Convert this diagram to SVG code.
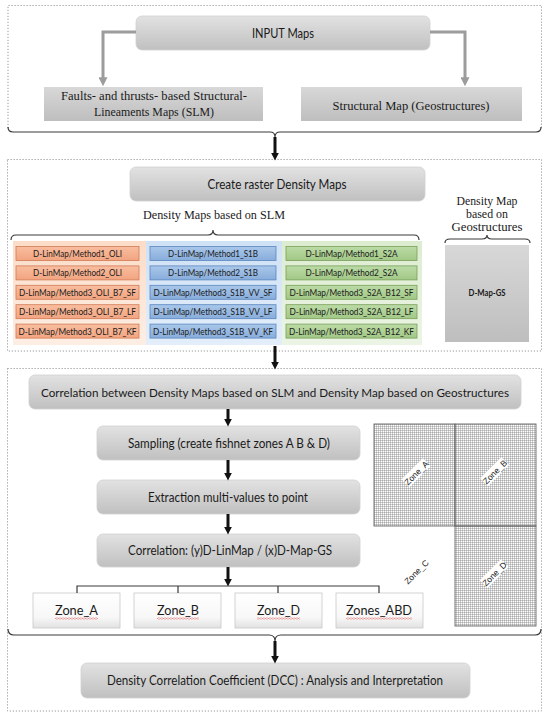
<svg xmlns="http://www.w3.org/2000/svg" width="550" height="714" viewBox="0 0 550 714">
<style>
.sec{fill:none;stroke:#9a9a9a;stroke-width:1;stroke-dasharray:1.2 1.8}
.gbox{fill:url(#gGray);stroke:#d0d0d0;stroke-width:0.8}
.sbox{fill:url(#gGray2);stroke:none}
.t{font-family:Lato,"Liberation Sans",sans-serif;fill:#1a1a1a;text-anchor:middle}
.s{font-family:"Liberation Serif","DejaVu Serif",serif;fill:#1a1a1a;text-anchor:middle}
.m{font-size:13px}
.c{font-size:9.5px}
.brace{fill:none;stroke:#3a3a3a;stroke-width:1.2}
.garr{fill:none;stroke:#9c9c9c;stroke-width:3}
.barr{fill:none;stroke:#111;stroke-width:3}
.tree{fill:none;stroke:#3a3a3a;stroke-width:1.2}
.ob{fill:url(#gOr);stroke:#d27a55;stroke-width:0.8}
.bb{fill:url(#gBl);stroke:#5a86bf;stroke-width:0.8}
.vb{fill:url(#gGr);stroke:#7a9f5a;stroke-width:0.8}
.zbox{fill:url(#gWhite);stroke:#c8c8c8;stroke-width:0.8}
.zl{font-family:"Liberation Sans",sans-serif;font-size:8.5px;fill:#222;text-anchor:middle}
.zr{fill:#fff}
.gridz{fill:url(#grid);stroke:#666;stroke-width:0.9}
.sq{fill:url(#squig)}
</style>
<defs>
<linearGradient id="gGray" x1="0" y1="0" x2="0" y2="1"><stop offset="0" stop-color="#e2e2e2"/><stop offset="1" stop-color="#c0c0c0"/></linearGradient>
<linearGradient id="gGray2" x1="0" y1="0" x2="0" y2="1"><stop offset="0" stop-color="#d8d8d8"/><stop offset="1" stop-color="#bebebe"/></linearGradient>
<linearGradient id="gOr" x1="0" y1="0" x2="0" y2="1"><stop offset="0" stop-color="#f8bea0"/><stop offset="1" stop-color="#f2a480"/></linearGradient>
<linearGradient id="gBl" x1="0" y1="0" x2="0" y2="1"><stop offset="0" stop-color="#a9c7ea"/><stop offset="1" stop-color="#88addb"/></linearGradient>
<linearGradient id="gGr" x1="0" y1="0" x2="0" y2="1"><stop offset="0" stop-color="#bcdba6"/><stop offset="1" stop-color="#a1c886"/></linearGradient>
<linearGradient id="gOrBg" x1="0" y1="0" x2="0" y2="1"><stop offset="0" stop-color="#fbdcc8"/><stop offset="1" stop-color="#fdeee4"/></linearGradient>
<linearGradient id="gBlBg" x1="0" y1="0" x2="0" y2="1"><stop offset="0" stop-color="#cfe1f5"/><stop offset="1" stop-color="#e3eefa"/></linearGradient>
<linearGradient id="gGrBg" x1="0" y1="0" x2="0" y2="1"><stop offset="0" stop-color="#dcecd0"/><stop offset="1" stop-color="#ecf5e5"/></linearGradient>
<linearGradient id="gWhite" x1="0" y1="0" x2="0" y2="1"><stop offset="0" stop-color="#ffffff"/><stop offset="0.7" stop-color="#f7f7f7"/><stop offset="1" stop-color="#e2e2e2"/></linearGradient>
<pattern id="grid" width="2" height="2" patternUnits="userSpaceOnUse"><path d="M0,0.25 H2 M0.25,0 V2" stroke="#7a7a7a" stroke-width="0.5" fill="none"/></pattern>
<pattern id="squig" width="3" height="2" patternUnits="userSpaceOnUse"><path d="M0,1.5 L1.5,0.5 L3,1.5" stroke="#e03030" stroke-width="0.6" fill="none"/></pattern>
<marker id="ahB" viewBox="0 0 10 10" refX="3" refY="5" markerWidth="8" markerHeight="8" markerUnits="userSpaceOnUse" orient="auto"><path d="M0,0 L10,5 L0,10 z" fill="#111"/></marker>
<marker id="ahG" viewBox="0 0 10 10" refX="3" refY="5" markerWidth="9" markerHeight="9" markerUnits="userSpaceOnUse" orient="auto"><path d="M0,0 L10,5 L0,10 z" fill="#9c9c9c"/></marker>
</defs>

<!-- Section frames -->
<g id="sections">
<path class="sec" d="M8,128 V5.5 H541.5 V128"/>
<rect class="sec" x="7.5" y="159.5" width="534" height="191.5"/>
<rect class="sec" x="7.5" y="368.5" width="534" height="342.5"/>
</g>

<!-- Section 1 -->
<g id="input-maps">
<rect class="gbox" x="136" y="16" width="294" height="34" rx="6"/>
<text class="t" x="283" y="37.5" font-size="12.5" textLength="62" lengthAdjust="spacingAndGlyphs">INPUT Maps</text>
</g>
<g id="slm-input">
<rect class="sbox" x="44" y="87" width="219" height="34"/>
<text class="s" x="154" y="100" font-size="12.5" textLength="186" lengthAdjust="spacingAndGlyphs">Faults- and thrusts- based Structural-</text>
<text class="s" x="154" y="116" font-size="12.5" textLength="120" lengthAdjust="spacingAndGlyphs">Lineaments Maps (SLM)</text>
</g>
<g id="geo-input">
<rect class="sbox" x="301" y="87" width="221" height="34"/>
<text class="s" x="411" y="110" font-size="12.5" textLength="157" lengthAdjust="spacingAndGlyphs">Structural Map (Geostructures)</text>
</g>

<!-- Section 2 -->
<g id="create-raster">
<rect class="gbox" x="130" y="167" width="295" height="34" rx="6"/>
<text class="t" x="277" y="188.5" font-size="12.5" textLength="139" lengthAdjust="spacingAndGlyphs">Create raster Density Maps</text>
</g>
<g id="slm-label">
<text class="s" x="214" y="219" font-size="12.5" textLength="142" lengthAdjust="spacingAndGlyphs">Density Maps  based on SLM</text>
</g>
<g id="gs-label">
<text class="s" x="487" y="205" font-size="12.5" textLength="61" lengthAdjust="spacingAndGlyphs">Density Map</text>
<text class="s" x="487" y="218" font-size="12.5" textLength="42" lengthAdjust="spacingAndGlyphs">based on</text>
<text class="s" x="487" y="231" font-size="12.5" textLength="71" lengthAdjust="spacingAndGlyphs">Geostructures</text>
</g>

<g id="col-oli">
<rect x="13" y="241" width="133" height="104" fill="url(#gOrBg)"/>
<rect class="ob" x="16" y="246.5" width="123" height="14"/>
<rect class="ob" x="16" y="265.9" width="123" height="14"/>
<rect class="ob" x="16" y="285.3" width="123" height="14"/>
<rect class="ob" x="16" y="304.7" width="123" height="14"/>
<rect class="ob" x="16" y="324.1" width="123" height="14"/>
<text class="t c" x="77.5" y="257" textLength="89" lengthAdjust="spacingAndGlyphs">D-LinMap/Method1_OLI</text>
<text class="t c" x="77.5" y="276.4" textLength="89" lengthAdjust="spacingAndGlyphs">D-LinMap/Method2_OLI</text>
<text class="t c" x="77.5" y="295.8" textLength="117" lengthAdjust="spacingAndGlyphs">D-LinMap/Method3_OLI_B7_SF</text>
<text class="t c" x="77.5" y="315.2" textLength="117" lengthAdjust="spacingAndGlyphs">D-LinMap/Method3_OLI_B7_LF</text>
<text class="t c" x="77.5" y="334.6" textLength="118" lengthAdjust="spacingAndGlyphs">D-LinMap/Method3_OLI_B7_KF</text>
</g>
<g id="col-s1b">
<rect x="146" y="241" width="136" height="104" fill="url(#gBlBg)"/>
<rect class="bb" x="150" y="246.5" width="126" height="14"/>
<rect class="bb" x="150" y="265.9" width="126" height="14"/>
<rect class="bb" x="150" y="285.3" width="126" height="14"/>
<rect class="bb" x="150" y="304.7" width="126" height="14"/>
<rect class="bb" x="150" y="324.1" width="126" height="14"/>
<text class="t c" x="213" y="257" textLength="90" lengthAdjust="spacingAndGlyphs">D-LinMap/Method1_S1B</text>
<text class="t c" x="213" y="276.4" textLength="90" lengthAdjust="spacingAndGlyphs">D-LinMap/Method2_S1B</text>
<text class="t c" x="213" y="295.8" textLength="119" lengthAdjust="spacingAndGlyphs">D-LinMap/Method3_S1B_VV_SF</text>
<text class="t c" x="213" y="315.2" textLength="119" lengthAdjust="spacingAndGlyphs">D-LinMap/Method3_S1B_VV_LF</text>
<text class="t c" x="213" y="334.6" textLength="120" lengthAdjust="spacingAndGlyphs">D-LinMap/Method3_S1B_VV_KF</text>
</g>
<g id="col-s2a">
<rect x="282" y="241" width="140" height="104" fill="url(#gGrBg)"/>
<rect class="vb" x="286" y="246.5" width="131" height="14"/>
<rect class="vb" x="286" y="265.9" width="131" height="14"/>
<rect class="vb" x="286" y="285.3" width="131" height="14"/>
<rect class="vb" x="286" y="304.7" width="131" height="14"/>
<rect class="vb" x="286" y="324.1" width="131" height="14"/>
<text class="t c" x="351.5" y="257" textLength="92" lengthAdjust="spacingAndGlyphs">D-LinMap/Method1_S2A</text>
<text class="t c" x="351.5" y="276.4" textLength="92" lengthAdjust="spacingAndGlyphs">D-LinMap/Method2_S2A</text>
<text class="t c" x="351.5" y="295.8" textLength="124" lengthAdjust="spacingAndGlyphs">D-LinMap/Method3_S2A_B12_SF</text>
<text class="t c" x="351.5" y="315.2" textLength="124" lengthAdjust="spacingAndGlyphs">D-LinMap/Method3_S2A_B12_LF</text>
<text class="t c" x="351.5" y="334.6" textLength="125" lengthAdjust="spacingAndGlyphs">D-LinMap/Method3_S2A_B12_KF</text>
</g>
<g id="d-map-gs">
<rect x="445" y="245" width="84" height="97" fill="url(#gGray2)"/>
<text class="t" x="487" y="296" font-size="8.5" font-weight="bold" textLength="37" lengthAdjust="spacingAndGlyphs">D-Map-GS</text>
</g>

<!-- Section 3 -->
<g id="correlation-main">
<rect class="gbox" x="29" y="375" width="492" height="34" rx="6"/>
<text class="t" x="275" y="396.5" font-size="12" textLength="468" lengthAdjust="spacingAndGlyphs">Correlation between Density Maps based on SLM and Density Map based on Geostructures</text>
</g>
<g id="sampling">
<rect class="gbox" x="97" y="426" width="263" height="34" rx="6"/>
<text class="t m" x="229" y="447.5" textLength="202" lengthAdjust="spacingAndGlyphs">Sampling (create fishnet zones A B &amp; D)</text>
</g>
<g id="extraction">
<rect class="gbox" x="97" y="480" width="263" height="34" rx="6"/>
<text class="t m" x="228" y="501.5" textLength="160" lengthAdjust="spacingAndGlyphs">Extraction multi-values to point</text>
</g>
<g id="correlation-xy">
<rect class="gbox" x="97" y="534" width="263" height="33" rx="6"/>
<text class="t m" x="230" y="555" textLength="204" lengthAdjust="spacingAndGlyphs">Correlation: (y)D-LinMap / (x)D-Map-GS</text>
</g>
<g id="zone-a">
<rect class="zbox" x="33" y="593" width="87" height="35"/>
<text class="t m" x="76.5" y="615" textLength="43" lengthAdjust="spacingAndGlyphs">Zone_A</text>
<rect class="sq" x="55" y="617.5" width="43" height="2"/>
</g>
<g id="zone-b">
<rect class="zbox" x="134" y="593" width="87" height="35"/>
<text class="t m" x="178" y="615" textLength="42" lengthAdjust="spacingAndGlyphs">Zone_B</text>
<rect class="sq" x="157" y="617.5" width="42" height="2"/>
</g>
<g id="zone-d">
<rect class="zbox" x="235" y="593" width="87" height="35"/>
<text class="t m" x="278.5" y="615" textLength="43" lengthAdjust="spacingAndGlyphs">Zone_D</text>
<rect class="sq" x="257" y="617.5" width="43" height="2"/>
</g>
<g id="zones-abd">
<rect class="zbox" x="336" y="593" width="87" height="35"/>
<text class="t m" x="379" y="615" textLength="66" lengthAdjust="spacingAndGlyphs">Zones_ABD</text>
<rect class="sq" x="346" y="617.5" width="66" height="2"/>
</g>
<g id="dcc">
<rect class="gbox" x="81" y="663" width="389" height="35" rx="6"/>
<text class="t m" x="275" y="685" textLength="336" lengthAdjust="spacingAndGlyphs">Density Correlation Coefficient (DCC) : Analysis and Interpretation</text>
</g>

<g id="fishnet">
<rect class="gridz" x="374" y="424" width="81" height="102"/>
<rect class="gridz" x="455" y="424" width="81" height="102"/>
<rect class="gridz" x="455" y="526" width="81" height="100"/>
<g transform="translate(416.5,473) rotate(-45)"><rect class="zr" x="-15" y="-6" width="30" height="11"/><text class="zl" x="0" y="3">Zone_A</text></g>
<g transform="translate(495,472) rotate(-45)"><rect class="zr" x="-15" y="-6" width="30" height="11"/><text class="zl" x="0" y="3">Zone_B</text></g>
<g transform="translate(416.5,572) rotate(-45)"><text class="zl" x="0" y="3">Zone_C</text></g>
<g transform="translate(494.5,574) rotate(-45)"><rect class="zr" x="-15" y="-6" width="30" height="11"/><text class="zl" x="0" y="3">Zone_D</text></g>
</g>

<!-- Connectors -->
<g id="connectors">
<path class="garr" d="M136,32 H103 V80" marker-end="url(#ahG)"/>
<path class="garr" d="M430,32 H465 V80" marker-end="url(#ahG)"/>
<path class="brace" d="M8,127 Q8,132 13,132 L270,132 Q275,132 275,137 Q275,132 280,132 L536,132 Q541,132 541,127"/>
<path class="barr" d="M275,137 V155" marker-end="url(#ahB)"/>
<path class="brace" d="M11,240 Q11,235 16,235 L208,235 Q213,235 213,230 Q213,235 218,235 L414,235 Q419,235 419,240"/>
<path class="brace" d="M445,243 Q445,239 450,239 L482,239 Q487,239 487,235 Q487,239 492,239 L525,239 Q530,239 530,243"/>
<path class="barr" d="M275,346 V364" marker-end="url(#ahB)"/>
<path class="barr" d="M228,409 V421" marker-end="url(#ahB)"/>
<path class="barr" d="M228,460 V475" marker-end="url(#ahB)"/>
<path class="barr" d="M228,514 V529" marker-end="url(#ahB)"/>
<path class="barr" d="M228,567 V581" marker-end="url(#ahB)"/>
<path class="tree" d="M77,593 V586 H379 V593 M178,586 V593 M278,586 V593"/>
<path class="brace" d="M8,629 Q8,635 14,635 L269,635 Q275,635 275,641 Q275,635 281,635 L535,635 Q541,635 541,629"/>
<path class="barr" d="M275,641 V658" marker-end="url(#ahB)"/>
</g>
</svg>
